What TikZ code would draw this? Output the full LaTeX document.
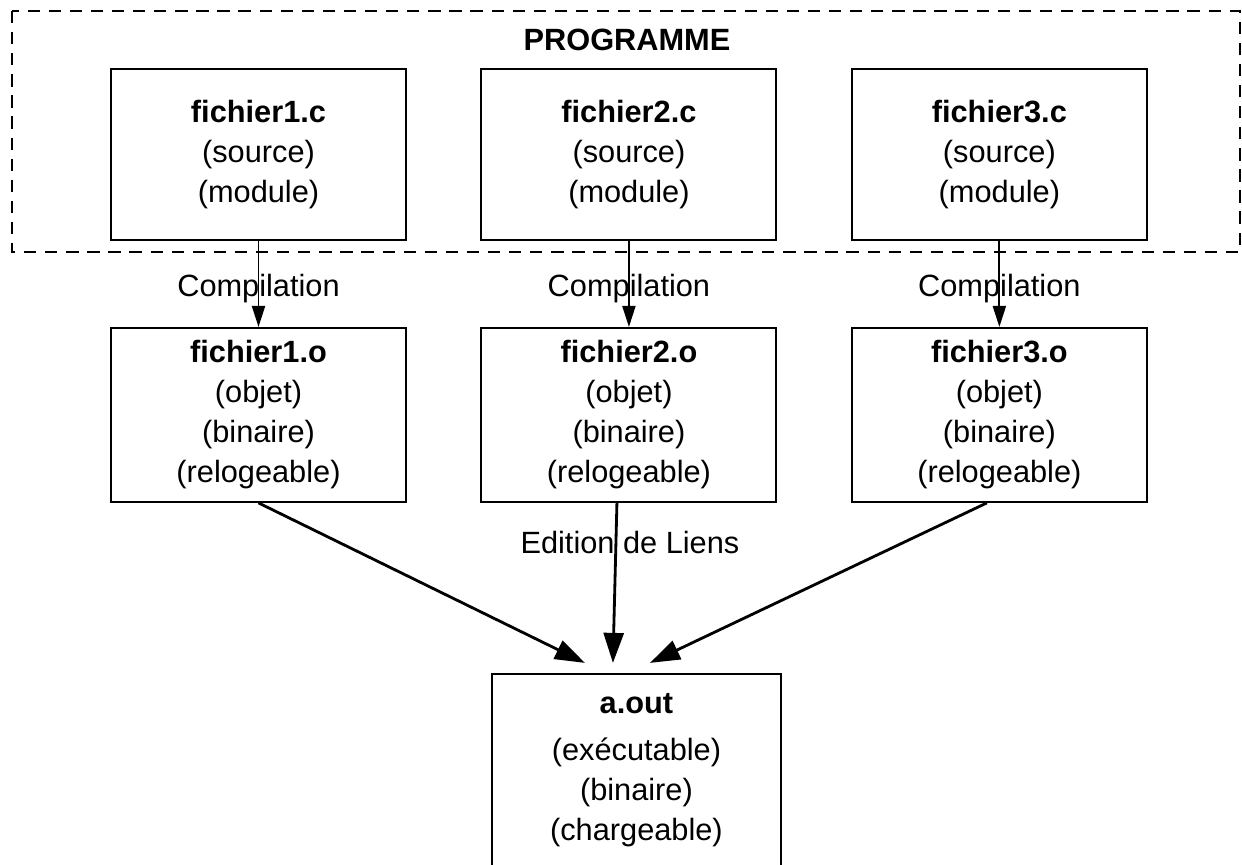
\documentclass[tikz,border=0pt]{standalone}
\usepackage{fontspec}
\setmainfont{Liberation Sans}
\usepackage{tikz}
\usetikzlibrary{arrows.meta, positioning, calc}

\begin{document}
\begin{tikzpicture}[
    node distance=1.72cm and 1.47cm,
    file/.style={draw, line width=1.1pt, minimum width=5.9cm, align=center, inner sep=0pt, font=\fontsize{17.5pt}{22.8pt}\selectfont},
    src/.style={file, minimum height=3.42cm},
    obj/.style={file, minimum height=3.48cm},
    exe/.style={file, minimum width=5.78cm, minimum height=3.84cm},
    frame/.style={draw, line width=0.8pt, dash pattern=on 7pt off 5pt},
    title/.style={font=\fontsize{17.5pt}{22.8pt}\selectfont\bfseries},
    comp/.style={-{Triangle[length=0.42cm, width=0.26cm]}, line width=1.1pt},
    link/.style={-{Triangle[length=0.6cm, width=0.4cm]}, line width=1.6pt},
    lbl/.style={font=\fontsize{17.5pt}{22.8pt}\selectfont},
]
\useasboundingbox (0,0) rectangle (24.84,-17.28);

% Programme
\draw[frame] (0.24,-0.22) rectangle (24.8,-5.04);
\node[title] (prog) at (12.54,-0.8) {PROGRAMME};

% Sources
\node[src] (src1) at (5.17,-3.09) {\textbf{fichier1.c}\\(source)\\(module)};
\node[src, right=of src1] (src2) {\textbf{fichier2.c}\\(source)\\(module)};
\node[src, right=of src2] (src3) {\textbf{fichier3.c}\\(source)\\(module)};

% Objets
\node[obj, below=of src1] (obj1) {\textbf{fichier1.o}\\(objet)\\(binaire)\\(relogeable)};
\node[obj, below=of src2] (obj2) {\textbf{fichier2.o}\\(objet)\\(binaire)\\(relogeable)};
\node[obj, below=of src3] (obj3) {\textbf{fichier3.o}\\(objet)\\(binaire)\\(relogeable)};

% Executable
\node[exe, below=3.4cm of obj2, xshift=0.15cm] (aout) {\textbf{a.out}\\[4pt](exécutable)\\(binaire)\\(chargeable)};

% --- Arrows ---
\draw[comp] (src1) -- node[lbl, yshift=-0.1cm] {Compilation} (obj1);
\draw[comp] (src2) -- node[lbl, yshift=-0.1cm] {Compilation} (obj2);
\draw[comp] (src3) -- node[lbl, yshift=-0.1cm] {Compilation} (obj3);

\draw[link] (obj1.south) -- ($(aout.north)+(-1.03,0.2)$);
\draw[link] ([xshift=-0.24cm]obj2.south) -- node[lbl, pos=0.25, xshift=0.28cm] {Edition de Liens} ($(aout.north)+(-0.47,0.2)$);
\draw[link] ([xshift=-0.25cm]obj3.south) -- ($(aout.north)+(0.27,0.2)$);

\end{tikzpicture}
\end{document}
